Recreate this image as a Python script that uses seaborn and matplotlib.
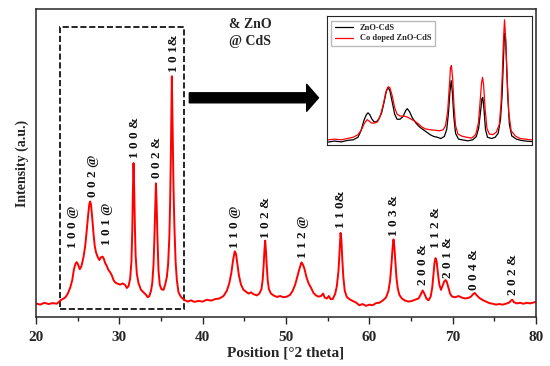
import matplotlib
matplotlib.use("Agg")
import matplotlib.pyplot as plt
import seaborn as sns
import pandas as pd
from matplotlib.patches import Rectangle
from matplotlib.ticker import MultipleLocator

# main XRD pattern (Co doped ZnO-CdS)
two_theta = [20.0, 20.5, 21.0, 21.5, 22.0, 22.5, 23.0, 23.5, 23.8, 24.1, 24.35, 24.55, 24.75,
             24.9, 25.05, 25.25, 25.45, 25.7, 25.9, 26.1, 26.25, 26.4, 26.5, 26.6, 26.75, 26.9,
             27.05, 27.2, 27.4, 27.6, 27.8, 28.0, 28.15, 28.3, 28.5, 28.7, 28.9, 29.1, 29.3,
             29.5, 29.8, 30.1, 30.4, 30.7, 30.9, 31.1, 31.3, 31.45, 31.55, 31.62, 31.7, 31.78,
             31.86, 31.95, 32.1, 32.3, 32.6, 32.9, 33.2, 33.4, 33.6, 33.8, 33.95, 34.1, 34.2,
             34.3, 34.39, 34.48, 34.58, 34.7, 34.85, 35.05, 35.3, 35.5, 35.7, 35.85, 36.0, 36.1,
             36.2, 36.3, 36.4, 36.5, 36.6, 36.75, 36.9, 37.1, 37.4, 37.8, 38.2, 38.6, 39.0,
             39.5, 40.0, 40.5, 41.0, 41.5, 42.0, 42.5, 42.9, 43.2, 43.45, 43.65, 43.85, 44.0,
             44.15, 44.35, 44.6, 44.9, 45.2, 45.5, 45.8, 46.1, 46.5, 46.8, 47.05, 47.2, 47.32,
             47.42, 47.5, 47.58, 47.68, 47.8, 47.95, 48.2, 48.5, 48.9, 49.3, 49.7, 50.1, 50.5,
             50.8, 51.1, 51.35, 51.6, 51.85, 52.0, 52.2, 52.45, 52.7, 53.0, 53.3, 53.6, 53.9,
             54.2, 54.45, 54.65, 54.9, 55.15, 55.35, 55.6, 55.9, 56.1, 56.3, 56.42, 56.55,
             56.65, 56.75, 56.88, 57.05, 57.3, 57.6, 58.0, 58.4, 58.8, 59.2, 59.6, 60.0, 60.4,
             60.8, 61.2, 61.6, 62.0, 62.3, 62.5, 62.65, 62.78, 62.9, 63.0, 63.12, 63.25, 63.4,
             63.6, 63.9, 64.3, 64.7, 65.1, 65.5, 65.9, 66.15, 66.4, 66.6, 66.85, 67.1, 67.35,
             67.55, 67.7, 67.82, 67.95, 68.08, 68.22, 68.4, 68.6, 68.8, 69.0, 69.15, 69.3,
             69.5, 69.7, 69.95, 70.3, 70.7, 71.1, 71.5, 71.9, 72.2, 72.45, 72.65, 72.9, 73.2,
             73.6, 74.0, 74.4, 74.8, 75.2, 75.6, 76.0, 76.4, 76.8, 77.0, 77.15, 77.35, 77.7,
             78.1, 78.5, 78.9, 79.3, 79.7, 80.0]
intensity = [4.4, 4.0, 4.6, 4.2, 4.5, 4.3, 5.5, 6.3, 7.5, 9.5, 12.0, 15.5, 17.4,
             17.8, 17.0, 15.5, 16.5, 19.5, 23.0, 28.5, 33.0, 36.8, 37.5, 36.5, 32.0, 27.0,
             23.0, 21.0, 19.5, 18.5, 19.4, 19.6, 18.8, 17.5, 16.5, 15.2, 14.5, 13.5, 12.0,
             11.2, 10.8, 10.5, 10.9, 10.4, 9.4, 10.0, 12.5, 18.0, 28.0, 40.0, 50.0, 42.0,
             30.0, 20.0, 14.0, 11.0, 8.8, 8.0, 7.2, 6.4, 6.8, 8.5, 11.0, 17.0, 25.0,
             35.0, 43.4, 36.0, 25.0, 15.0, 10.5, 9.0, 8.8, 10.5, 13.0, 17.0, 26.0, 38.0,
             56.0, 78.2, 60.0, 42.0, 30.0, 18.0, 12.0, 8.0, 6.5, 5.5, 5.0, 5.4, 4.9,
             5.2, 5.0, 5.6, 5.3, 5.8, 6.0, 6.8, 8.5, 11.0, 14.5, 18.5, 21.3, 20.5,
             17.5, 13.5, 10.5, 8.8, 8.2, 7.6, 8.0, 7.4, 7.0, 7.6, 9.0, 12.0, 17.0,
             22.0, 24.8, 22.0, 17.0, 12.0, 9.0, 7.6, 7.0, 6.5, 6.8, 6.4, 6.6, 7.2,
             8.5, 10.5, 13.0, 15.5, 17.7, 17.2, 15.8, 13.0, 11.0, 9.5, 7.8, 7.0, 6.6,
             6.8, 7.6, 6.3, 6.0, 6.8, 5.8, 5.8, 7.5, 10.0, 15.0, 21.0, 27.3,
             25.0, 19.0, 13.0, 8.5, 6.5, 5.8, 5.2, 4.7, 3.8, 4.2, 3.6, 4.0, 3.8,
             4.5, 4.6, 5.3, 6.3, 8.5, 12.0, 17.0, 22.0, 25.2, 23.0, 18.0, 13.0, 9.5,
             7.2, 6.0, 5.3, 5.0, 5.2, 5.6, 6.0, 7.2, 8.6, 7.6, 6.0, 5.4, 6.5,
             9.5, 14.0, 17.5, 19.1, 18.0, 14.5, 10.5, 8.8, 10.2, 11.6, 12.0, 11.4,
             9.5, 7.5, 6.6, 6.4, 6.8, 6.3, 6.0, 6.2, 6.6, 7.4, 7.8, 7.0, 6.2,
             5.5, 5.0, 4.5, 4.3, 4.0, 4.2, 4.0, 4.3, 4.7, 5.3, 5.6, 4.8, 4.4,
             4.6, 4.3, 4.6, 4.4, 4.7, 4.9]

# peak labels: text, position, bottom of label
peak_labels = ["1 0 0 @", "0 0 2 @", "1 0 1 @", "1 0 0 &", "0 0 2 &", "1 0 1&",
               "1 1 0 @", "1 0 2 &", "1 1 2 @", "1 1 0&", "1 0 3 &", "2 0 0 &",
               "1 1 2 &", "2 0 1 &", "0 0 4 &", "2 0 2 &"]
label_x = [24.4, 26.8, 28.5, 31.9, 34.5, 36.5, 43.9, 47.6, 52.1, 56.6, 62.95, 66.4,
           68.0, 69.4, 72.6, 77.2]
label_y = [22.3, 39.0, 23.4, 51.5, 45.0, 79.5, 22.4, 25.6, 19.2, 28.9, 26.3, 10.4,
           22.4, 12.7, 8.8, 7.1]

# inset: zoomed region 21-38.5 deg
inset_x_black = [21.2, 21.8, 22.4, 22.9, 23.4, 23.8, 24.05, 24.3, 24.5, 24.65, 24.8, 24.95,
                 25.15, 25.35, 25.55, 25.8, 26.0, 26.2, 26.35, 26.5, 26.7, 26.9, 27.1, 27.35,
                 27.6, 27.85, 27.97, 28.15, 28.4, 28.7, 29.0, 29.3, 29.6, 29.9, 30.2, 30.5,
                 30.8, 31.1, 31.3, 31.45, 31.58, 31.68, 31.78, 31.9, 32.05, 32.3, 32.7, 33.1,
                 33.5, 33.8, 34.0, 34.15, 34.28, 34.35, 34.45, 34.58, 34.75, 35.1, 35.4, 35.65,
                 35.85, 35.98, 36.08, 36.18, 36.25, 36.33, 36.45, 36.6, 36.8, 37.2, 37.6, 38.0,
                 38.5]
inset_y_black = [0.021, 0.03, 0.024, 0.035, 0.04, 0.06, 0.11, 0.19, 0.235, 0.25, 0.235, 0.205,
                 0.18, 0.18, 0.2, 0.25, 0.33, 0.42, 0.447, 0.42, 0.33, 0.24, 0.2, 0.2,
                 0.22, 0.27, 0.282, 0.26, 0.21, 0.17, 0.14, 0.12, 0.1, 0.08, 0.066, 0.06,
                 0.05, 0.066, 0.12, 0.25, 0.42, 0.5, 0.41, 0.22, 0.09, 0.045, 0.038, 0.032,
                 0.04, 0.065, 0.13, 0.25, 0.36, 0.37, 0.28, 0.12, 0.06, 0.05, 0.06, 0.09,
                 0.2, 0.38, 0.62, 0.86, 0.87, 0.72, 0.4, 0.16, 0.07, 0.045, 0.035, 0.03,
                 0.026]
inset_x_red = [21.2, 21.8, 22.4, 22.9, 23.4, 23.8, 24.1, 24.35, 24.58, 24.75, 24.95, 25.2,
               25.45, 25.7, 25.95, 26.15, 26.35, 26.5, 26.7, 26.9, 27.1, 27.35, 27.7, 28.0,
               28.3, 28.6, 28.9, 29.2, 29.5, 29.9, 30.3, 30.7, 31.0, 31.2, 31.38, 31.52,
               31.62, 31.7, 31.8, 31.92, 32.05, 32.25, 32.6, 33.0, 33.4, 33.75, 33.98, 34.12,
               34.24, 34.33, 34.42, 34.55, 34.7, 34.9, 35.2, 35.5, 35.75, 35.9, 36.0, 36.1,
               36.19, 36.28, 36.4, 36.55, 36.75, 37.1, 37.5, 38.0, 38.5]
inset_y_red = [0.039, 0.045, 0.04, 0.05, 0.06, 0.08, 0.12, 0.17, 0.197, 0.185, 0.17, 0.17,
               0.18, 0.23, 0.32, 0.41, 0.453, 0.445, 0.38, 0.29, 0.24, 0.225, 0.224, 0.216,
               0.2, 0.185, 0.165, 0.14, 0.125, 0.118, 0.115, 0.11, 0.118, 0.15, 0.26, 0.45,
               0.6, 0.618, 0.52, 0.3, 0.15, 0.085, 0.068, 0.06, 0.053, 0.08, 0.17, 0.33,
               0.48, 0.526, 0.47, 0.28, 0.13, 0.085, 0.08, 0.1, 0.16, 0.33, 0.55, 0.82,
               0.974, 0.84, 0.55, 0.25, 0.11, 0.07, 0.05, 0.045, 0.039]

sns.set_style("ticks")
plt.rcParams["font.family"] = ["Liberation Serif", "DejaVu Serif"]
plt.rcParams["font.weight"] = "bold"

main_df = pd.DataFrame({"two_theta": two_theta, "intensity": intensity})

fig = plt.figure(figsize=(5.5, 3.66), dpi=100)
ax = fig.add_axes([0.0655, 0.134, 0.909, 0.841])
sns.lineplot(data=main_df, x="two_theta", y="intensity", color="red", lw=1.4, ax=ax)

ax.set_xlim(20, 80)
ax.set_ylim(0, 100)
ax.set_yticks([])
ax.xaxis.set_major_locator(MultipleLocator(10))
ax.xaxis.set_minor_locator(MultipleLocator(5))
ax.tick_params(axis="x", which="major", length=5, width=1, labelsize=11, pad=5)
ax.tick_params(axis="x", which="minor", length=3, width=1)
for lab in ax.get_xticklabels():
    lab.set_fontweight("bold")
for s in ax.spines.values():
    s.set_linewidth(1.1)
    s.set_visible(True)

ax.set_xlabel("Position [°2 theta]", fontsize=11, fontweight="bold", labelpad=2)
ax.set_ylabel("Intensity (a.u.)", fontsize=10, fontweight="bold", labelpad=5)

for txt, x, y in zip(peak_labels, label_x, label_y):
    ax.text(x, y, txt, rotation=90, ha="center", va="bottom", fontsize=9.5,
            fontweight="bold", color="#111111")

# dashed box around the zoomed region
ax.add_patch(Rectangle((22.9, 2.7), 14.9, 91.6, fill=False, ls="--", lw=1.2, ec="black"))

# phase key
ax.text(43.2, 95, "& ZnO", fontsize=10, fontweight="bold", va="center")
ax.text(43.2, 89.6, "@ CdS", fontsize=10, fontweight="bold", va="center")

# big arrow to the inset
ax.annotate("", xy=(53.9, 71.2), xytext=(38.4, 71.2),
            arrowprops=dict(arrowstyle="simple,head_width=1.94,head_length=0.85,tail_width=0.72",
                            color="black", shrinkA=0, shrinkB=0, mutation_scale=10))

# inset
axin = fig.add_axes([0.595, 0.604, 0.372, 0.351])
sns.lineplot(x=inset_x_black, y=inset_y_black, color="black", lw=0.9, ax=axin, label="ZnO-CdS")
sns.lineplot(x=inset_x_red, y=inset_y_red, color="red", lw=0.9, ax=axin, label="Co doped ZnO-CdS")
axin.set_xlim(21.2, 38.5)
axin.set_ylim(0, 1.0)
axin.set_xticks([])
axin.set_yticks([])
for s in axin.spines.values():
    s.set_linewidth(0.8)
axin.legend(loc="upper left", frameon=True, fancybox=False, edgecolor="#aaaaaa",
            handlelength=2.2, borderpad=0.4, labelspacing=0.3, prop={"weight": "bold", "size": 6})

plt.savefig("out.png", dpi=100)
